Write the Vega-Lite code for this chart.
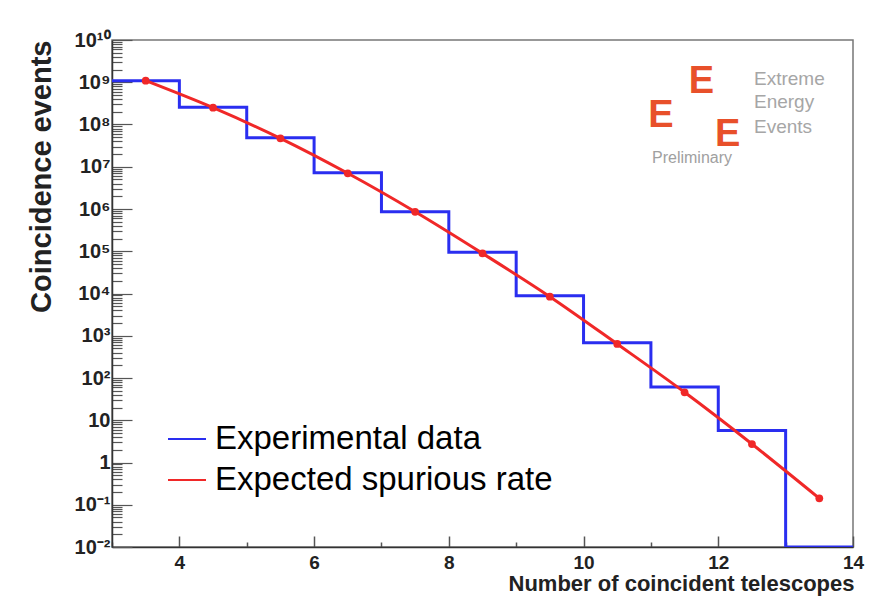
{
  "$schema": "https://vega.github.io/schema/vega-lite/v6.json",
  "width": 741,
  "height": 507,
  "autosize": "none",
  "padding": {"left": 112, "top": 40, "right": 26, "bottom": 66},
  "background": "white",
  "config": {
    "font": "Liberation Sans",
    "view": {"stroke": "#777", "strokeWidth": 1.5},
    "axis": {"grid": false}
  },
  "datasets": {
    "hist": [
      {"n": 3, "v": 1.09e9},
      {"n": 4, "v": 2.55e8},
      {"n": 5, "v": 4.87e7},
      {"n": 6, "v": 7.23e6},
      {"n": 7, "v": 8.63e5},
      {"n": 8, "v": 9.5e4},
      {"n": 9, "v": 8.9e3},
      {"n": 10, "v": 686},
      {"n": 11, "v": 61},
      {"n": 12, "v": 5.7},
      {"n": 13, "v": 0.01},
      {"n": 14, "v": 0.01}
    ],
    "fit": [
      {"n": 3.5, "v": 1.09e9},
      {"n": 4.5, "v": 2.5e8},
      {"n": 5.5, "v": 4.7e7},
      {"n": 6.5, "v": 7.0e6},
      {"n": 7.5, "v": 8.6e5},
      {"n": 8.5, "v": 8.9e4},
      {"n": 9.5, "v": 8.4e3},
      {"n": 10.5, "v": 638},
      {"n": 11.5, "v": 45.9},
      {"n": 12.5, "v": 2.74},
      {"n": 13.5, "v": 0.142}
    ],
    "logoWords": [
      {"n": 12.53, "v": 1.19e9, "t": "Extreme"},
      {"n": 12.53, "v": 3.47e8, "t": "Energy"},
      {"n": 12.53, "v": 8.87e7, "t": "Events"}
    ],
    "logoPrelim": [
      {"n": 11.61, "v": 1.61e7, "t": "Preliminary"}
    ],
    "logoE": [
      {"n": 11.75, "v": 9.87e8, "t": "E"},
      {"n": 11.15, "v": 1.63e8, "t": "E"},
      {"n": 12.14, "v": 5.64e7, "t": "E"}
    ]
  },
  "layer": [
    {
      "data": {"name": "hist"},
      "mark": {"type": "line", "interpolate": "step-after", "strokeWidth": 3, "clip": true},
      "encoding": {
        "x": {
          "field": "n", "type": "quantitative",
          "scale": {"domain": [3, 14], "nice": false, "zero": false},
          "axis": {
            "values": [3, 3.5, 4, 4.5, 5, 5.5, 6, 6.5, 7, 7.5, 8, 8.5, 9, 9.5, 10, 10.5, 11, 11.5, 12, 12.5, 13, 13.5, 14],
            "labelExpr": "datum.value % 2 == 0 ? format(datum.value, 'd') : ''",
            "tickSize": {"condition": {"test": "datum.value % 2 == 0", "value": -11}, "value": -5},
            "labelPadding": 17,
            "labelFontSize": 19,
            "labelFontWeight": "bold",
            "labelColor": "#222",
            "labelOverlap": false,
            "labelBound": false,
            "labelFlush": false,
            "tickColor": "#555",
            "tickWidth": 1.5,
            "domainColor": "#333",
            "domainWidth": 1.5,
            "title": "Number of coincident telescopes",
            "titleFontSize": 22,
            "titleFontWeight": "bold",
            "titleColor": "#222",
            "titleX": 742,
            "titleY": 36,
            "titleAlign": "right",
            "titleAnchor": null,
            "titleBaseline": "middle"
          }
        },
        "y": {
          "field": "v", "type": "quantitative",
          "scale": {"type": "log", "domain": [0.01, 1e10], "nice": false},
          "axis": {
            "tickCount": 200,
            "labelExpr": "abs(log(datum.value)/LN10 - round(log(datum.value)/LN10)) > 0.001 ? '' : datum.value == 1 ? '1' : datum.value == 10 ? '10' : '10' + (datum.value < 1 ? '⁻' : '') + ['⁰','¹','²','³','⁴','⁵','⁶','⁷','⁸','⁹','¹⁰'][abs(round(log(datum.value)/LN10))]",
            "tickSize": {"condition": {"test": "abs(log(datum.value)/LN10 - round(log(datum.value)/LN10)) < 0.001", "value": -20}, "value": -10},
            "labelPadding": 22,
            "labelFontSize": 20,
            "labelFontWeight": "bold",
            "labelColor": "#222",
            "labelOverlap": false,
            "labelBound": false,
            "labelFlush": false,
            "tickColor": "#555",
            "tickWidth": 1.2,
            "domainColor": "#333",
            "domainWidth": 1.5,
            "title": "Coincidence events",
            "titleFontSize": 29,
            "titleFontWeight": "bold",
            "titleColor": "#222",
            "titleAngle": -90,
            "titleX": -71,
            "titleY": 0,
            "titleAlign": "right",
            "titleAnchor": null,
            "titleBaseline": "middle"
          }
        },
        "color": {
          "datum": "Experimental data",
          "type": "nominal",
          "scale": {"domain": ["Experimental data", "Expected spurious rate"], "range": ["#2a2ef0", "#f02828"]},
          "legend": {
            "title": null,
            "orient": "none",
            "legendX": 55,
            "legendY": 379,
            "symbolType": "stroke",
            "symbolSize": 1444,
            "symbolStrokeWidth": 2,
            "labelFontSize": 33,
            "labelFont": "Liberation Sans",
            "labelColor": "#000",
            "labelLimit": 0,
            "labelOffset": 8,
            "rowPadding": 4,
            "padding": 0
          }
        }
      }
    },
    {
      "data": {"name": "fit"},
      "mark": {"type": "line", "interpolate": "monotone", "strokeWidth": 3},
      "encoding": {
        "x": {"field": "n", "type": "quantitative"},
        "y": {"field": "v", "type": "quantitative"},
        "color": {"datum": "Expected spurious rate", "type": "nominal"}
      }
    },
    {
      "data": {"name": "fit"},
      "mark": {"type": "point", "filled": true, "size": 60, "opacity": 1, "color": "#f02828"},
      "encoding": {
        "x": {"field": "n", "type": "quantitative"},
        "y": {"field": "v", "type": "quantitative"}
      }
    },
    {
      "data": {"name": "logoWords"},
      "mark": {"type": "text", "align": "left", "baseline": "middle", "fontSize": 19, "color": "#a6a6a6"},
      "encoding": {
        "x": {"field": "n", "type": "quantitative"},
        "y": {"field": "v", "type": "quantitative"},
        "text": {"field": "t"}
      }
    },
    {
      "data": {"name": "logoPrelim"},
      "mark": {"type": "text", "align": "center", "baseline": "middle", "fontSize": 16, "color": "#a0a0a0"},
      "encoding": {
        "x": {"field": "n", "type": "quantitative"},
        "y": {"field": "v", "type": "quantitative"},
        "text": {"field": "t"}
      }
    },
    {
      "data": {"name": "logoE"},
      "mark": {"type": "text", "align": "center", "baseline": "middle", "fontSize": 38, "fontWeight": "bold", "color": "#e8502a"},
      "encoding": {
        "x": {"field": "n", "type": "quantitative"},
        "y": {"field": "v", "type": "quantitative"},
        "text": {"field": "t"}
      }
    }
  ]
}
